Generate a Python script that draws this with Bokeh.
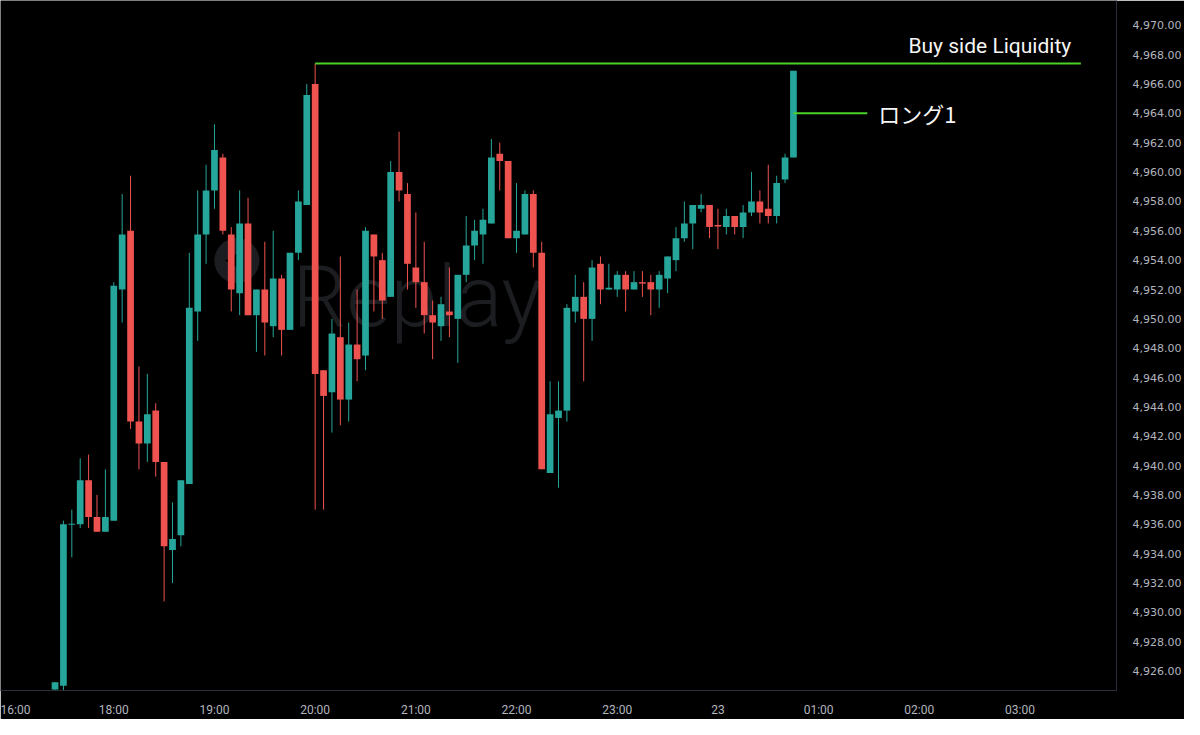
import numpy as np
from bokeh.plotting import figure
from bokeh.models import Range1d, FixedTicker, NumeralTickFormatter, Label, ColumnDataSource
from bokeh.embed import file_html
from bokeh.resources import INLINE

# ---------------- data (5-minute bars) ----------------
opens = [4924.75, 4925.00, 4936.00, 4936.00, 4939.00, 4936.50, 4935.50, 4936.25, 4952.00, 4956.00,
         4943.00, 4941.50, 4943.75, 4940.25, 4934.25, 4935.25, 4938.75, 4950.50, 4955.75, 4958.75,
         4961.00, 4955.75, 4951.75, 4956.50, 4950.25, 4952.00, 4949.50, 4952.75, 4949.25, 4954.50,
         4957.75, 4966.00, 4946.50, 4945.00, 4948.75, 4944.50, 4948.25, 4947.50, 4955.75, 4954.00,
         4951.50, 4960.00, 4958.50, 4953.50, 4952.50, 4950.25, 4949.50, 4950.50, 4950.00, 4953.00,
         4955.00, 4955.75, 4956.50, 4961.25, 4960.75, 4955.50, 4955.75, 4958.50, 4954.50, 4939.50,
         4943.25, 4943.75, 4950.50, 4951.50, 4950.00, 4953.75, 4952.00, 4952.00, 4953.00, 4952.00,
         4952.50, 4952.50, 4952.00, 4952.75, 4954.00, 4955.50, 4956.50, 4957.50, 4957.75, 4956.40,
         4956.25, 4957.00, 4956.25, 4957.25, 4958.00, 4957.50, 4957.00, 4959.50, 4961.00]
highs = [4925.25, 4936.25, 4937.00, 4940.50, 4940.75, 4938.00, 4939.75, 4952.50, 4958.50, 4959.75,
         4946.75, 4946.25, 4944.25, 4940.25, 4937.50, 4939.00, 4954.50, 4958.75, 4960.50, 4963.25,
         4961.25, 4956.25, 4958.75, 4958.25, 4952.00, 4955.25, 4956.00, 4953.00, 4954.50, 4958.75,
         4966.00, 4967.40, 4946.50, 4950.00, 4954.25, 4949.75, 4952.00, 4956.25, 4955.75, 4954.50,
         4960.75, 4962.75, 4959.25, 4957.25, 4955.25, 4951.25, 4951.50, 4953.50, 4953.00, 4957.00,
         4956.75, 4957.50, 4962.25, 4962.00, 4960.75, 4959.25, 4958.75, 4958.75, 4955.25, 4945.75,
         4945.75, 4951.00, 4953.00, 4952.50, 4954.00, 4954.25, 4953.75, 4953.25, 4953.25, 4953.25,
         4953.25, 4953.00, 4953.25, 4954.25, 4956.25, 4958.00, 4957.75, 4958.50, 4957.75, 4957.50,
         4957.50, 4957.00, 4957.75, 4960.00, 4958.75, 4960.50, 4959.75, 4961.25, 4966.90]
lows = [4924.50, 4924.50, 4933.75, 4935.75, 4935.75, 4935.50, 4935.50, 4936.25, 4949.75, 4942.50,
        4939.75, 4940.25, 4939.25, 4930.75, 4932.00, 4934.50, 4938.75, 4948.50, 4953.75, 4957.50,
        4955.75, 4950.50, 4950.25, 4950.25, 4947.75, 4947.50, 4948.75, 4947.50, 4949.25, 4954.00,
        4957.75, 4937.00, 4937.00, 4942.25, 4942.75, 4943.00, 4945.75, 4946.50, 4950.50, 4950.00,
        4951.50, 4958.00, 4952.00, 4950.75, 4949.00, 4947.25, 4948.50, 4948.75, 4947.00, 4952.50,
        4954.00, 4953.75, 4956.50, 4958.75, 4955.50, 4954.50, 4955.75, 4953.50, 4939.75, 4939.50,
        4938.50, 4943.00, 4949.75, 4945.75, 4948.50, 4951.00, 4952.00, 4951.50, 4950.50, 4952.00,
        4951.50, 4950.25, 4950.75, 4951.75, 4953.25, 4955.25, 4954.75, 4957.25, 4955.50, 4954.75,
        4955.75, 4955.75, 4955.50, 4957.00, 4956.50, 4956.50, 4956.50, 4959.25, 4961.00]
closes = [4925.25, 4936.00, 4936.00, 4939.00, 4936.50, 4935.50, 4936.50, 4952.25, 4955.75, 4943.00,
          4941.50, 4943.50, 4940.25, 4934.50, 4935.00, 4939.00, 4950.75, 4955.75, 4958.75, 4961.50,
          4956.00, 4952.00, 4956.50, 4950.25, 4952.00, 4949.75, 4952.75, 4949.25, 4954.50, 4958.00,
          4965.25, 4946.25, 4944.75, 4949.00, 4944.50, 4948.25, 4947.25, 4956.00, 4954.25, 4951.25,
          4960.00, 4958.75, 4953.75, 4952.50, 4950.25, 4949.75, 4951.00, 4950.25, 4953.00, 4955.00,
          4956.00, 4956.75, 4961.00, 4960.75, 4955.50, 4956.00, 4958.50, 4954.50, 4939.75, 4943.50,
          4943.75, 4950.75, 4951.50, 4950.00, 4953.50, 4952.00, 4952.12, 4953.00, 4952.00, 4952.50,
          4952.40, 4952.00, 4953.00, 4954.25, 4955.50, 4956.50, 4957.75, 4957.75, 4956.25, 4956.30,
          4957.00, 4956.25, 4957.25, 4958.00, 4957.25, 4957.00, 4959.25, 4961.00, 4966.90]

time_tick_bars = [-5, 7, 19, 31, 43, 55, 67, 79, 91, 103, 115]
time_tick_labels = ["16:00", "18:00", "19:00", "20:00", "21:00", "22:00", "23:00", "23", "01:00", "02:00", "03:00"]

liquidity_price = 4967.40          # high of the 20:00 bar
liquidity_start_bar = 31
liquidity_end_bar = 122.25
liquidity_text = "Buy side Liquidity"

long_price = 4964.0
long_start_bar = 88
long_end_bar = 96.8
long_text = "ロング1"

# ---------------- style ----------------
UP = "#26a69a"
DOWN = "#ef5350"
GREEN_LINE = "#4bd22a"
BG = "#000000"
AXIS_TXT = "#b2b5be"
SEP = "#2a2e39"
WM = "#1c1d21"

n = len(opens)
bars = np.arange(n)
o = np.array(opens); c = np.array(closes)
is_up = c >= o
top = np.maximum(o, c); bot = np.minimum(o, c)
min_h = 0.07
thin = (top - bot) < min_h
mid = (top + bot) / 2
top = np.where(thin, mid + min_h / 2, top)
bot = np.where(thin, mid - min_h / 2, bot)
colors = np.where(is_up, UP, DOWN)

src = ColumnDataSource(dict(x=bars, high=highs, low=lows, top=top, bottom=bot, color=colors))

p = figure(width=1184, height=719, output_backend="svg", toolbar_location=None,
           x_range=Range1d(-6.5, 126.5), y_range=Range1d(4924.68, 4971.69),
           y_axis_location="right",
           min_border_left=0, min_border_top=0, min_border_right=66, min_border_bottom=24,
           background_fill_color=BG, border_fill_color=BG, outline_line_color=None)
p.grid.visible = False

# watermark
wm_circle_bar, wm_circle_price = 21.67, 4953.97
p.scatter(x=[wm_circle_bar], y=[wm_circle_price], size=45, marker="circle",
          fill_color=WM, line_color=None, level="underlay")
p.scatter(x=[wm_circle_bar - 0.3], y=[wm_circle_price], size=16, marker="triangle",
          angle=np.pi / 2, fill_color=BG, line_color=None, level="underlay")
p.add_layout(Label(x=28.3, y=4951.5, text="Replay", text_font="Roboto Light",
                   text_font_size="85px", text_color=WM, text_baseline="alphabetic",
                   text_align="left", level="underlay"))

# candles
p.segment(x0="x", x1="x", y0="low", y1="high", line_color="color", line_width=1, source=src)
p.vbar(x="x", width=0.8, top="top", bottom="bottom", fill_color="color", line_color=None, source=src)

# annotations
p.segment(x0=[liquidity_start_bar], x1=[liquidity_end_bar], y0=[liquidity_price], y1=[liquidity_price],
          line_color=GREEN_LINE, line_width=2)
p.add_layout(Label(x=121.1, y=4968.6, text=liquidity_text, text_font="Roboto",
                   text_font_size="21px", text_color="#f5f5f5", text_align="right",
                   text_baseline="middle"))
p.segment(x0=[long_start_bar], x1=[long_end_bar], y0=[long_price], y1=[long_price],
          line_color=GREEN_LINE, line_width=2)
p.add_layout(Label(x=98.1, y=long_price, text=long_text, text_font="Noto Sans CJK JP",
                   text_font_size="22px", text_color="#f5f5f5", text_align="left",
                   text_baseline="middle"))

# axes
xa = p.xaxis[0]
xa.ticker = FixedTicker(ticks=time_tick_bars)
xa.major_label_overrides = {t: l for t, l in zip(time_tick_bars, time_tick_labels)}
xa.axis_line_color = SEP
xa.major_tick_line_color = None
xa.minor_tick_line_color = None
xa.major_label_text_color = AXIS_TXT
xa.major_label_text_font = "Roboto"
xa.major_label_text_font_size = "12px"
xa.major_label_standoff = 6

ya = p.yaxis[0]
ya.ticker = FixedTicker(ticks=list(np.arange(4926, 4972, 2)))
ya.formatter = NumeralTickFormatter(format="0,0.00")
ya.axis_line_color = SEP
ya.major_tick_line_color = None
ya.minor_tick_line_color = None
ya.major_label_text_color = AXIS_TXT
ya.major_label_text_font = "DejaVu Sans"
ya.major_label_text_font_size = "11px"
ya.major_label_standoff = 10

open("out.html", "w").write(file_html(p, INLINE))
